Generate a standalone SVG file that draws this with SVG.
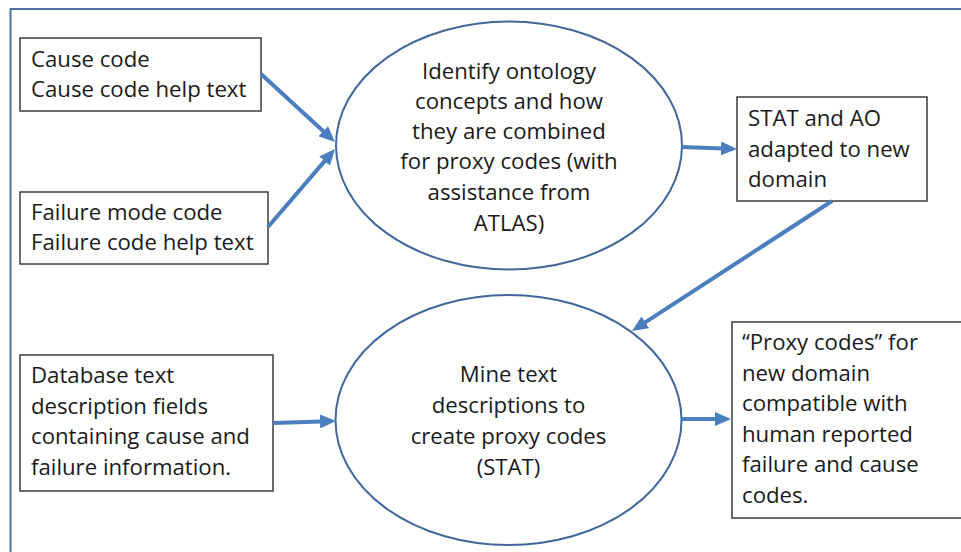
<svg xmlns="http://www.w3.org/2000/svg" width="961" height="552" viewBox="0 0 961 552">
<style>
  text { font-family: "Open Sans", "Noto Sans", sans-serif; font-size: 22.2px; fill: #1a1a1a; }
  .box { fill: #ffffff; stroke: #3c3c3c; stroke-width: 1.5; }
  .ell { fill: #ffffff; stroke: #41679b; stroke-width: 2; }
  .frame { fill: none; stroke: #4a6ea5; stroke-width: 2; }
  .conn { fill: none; stroke: #4a7ebf; stroke-width: 4; marker-end: url(#ah); }
  .c { text-anchor: middle; }
</style>
<defs>
  <marker id="ah" markerUnits="userSpaceOnUse" markerWidth="16" markerHeight="14" refX="2" refY="7" orient="auto">
    <path d="M0,0 L16,7 L0,14 z" fill="#4a7ebf"/>
  </marker>
</defs>
<rect width="961" height="552" fill="#ffffff"/>
<path class="frame" d="M10.5,552 L10.5,9 L961,9"/>

<g id="cause">
  <rect class="box" x="20" y="38" width="241" height="73"/>
  <text x="31" y="67">Cause code</text>
  <text x="31" y="97">Cause code help text</text>
</g>
<g id="failure">
  <rect class="box" x="20" y="192" width="248" height="72"/>
  <text x="31" y="220">Failure mode code</text>
  <text x="31" y="250">Failure code help text</text>
</g>
<g id="database">
  <rect class="box" x="20" y="355" width="253" height="136"/>
  <text x="31" y="383">Database text</text>
  <text x="31" y="413.5">description fields</text>
  <text x="31" y="444">containing cause and</text>
  <text x="31" y="474.5">failure information.</text>
</g>
<g id="identify">
  <ellipse class="ell" cx="509" cy="145.5" rx="173" ry="124"/>
  <text class="c" x="509" y="79">Identify ontology</text>
  <text class="c" x="509" y="109">concepts and how</text>
  <text class="c" x="509" y="139">they are combined</text>
  <text class="c" x="509" y="169">for proxy codes (with</text>
  <text class="c" x="509" y="200">assistance from</text>
  <text class="c" x="509" y="231">ATLAS)</text>
</g>
<g id="stat">
  <rect class="box" x="737" y="97" width="190" height="104"/>
  <text x="748" y="126">STAT and AO</text>
  <text x="748" y="156.5">adapted to new</text>
  <text x="748" y="187">domain</text>
</g>
<g id="mine">
  <ellipse class="ell" cx="508.5" cy="420" rx="173" ry="125"/>
  <text class="c" x="508.5" y="382">Mine text</text>
  <text class="c" x="508.5" y="413">descriptions to</text>
  <text class="c" x="508.5" y="444">create proxy codes</text>
  <text class="c" x="508.5" y="475">(STAT)</text>
</g>
<g id="proxy">
  <rect class="box" x="732" y="322" width="240" height="196"/>
  <text x="742" y="350">“Proxy codes” for</text>
  <text x="742" y="380.5">new domain</text>
  <text x="742" y="411">compatible with</text>
  <text x="742" y="441.5">human reported</text>
  <text x="742" y="472">failure and cause</text>
  <text x="742" y="502.5">codes.</text>
</g>

<g id="connectors">
  <line class="conn" x1="261" y1="74" x2="324.7" y2="132.5"/>
  <line class="conn" x1="268" y1="227" x2="325.9" y2="159.6"/>
  <line class="conn" x1="682" y1="147" x2="723" y2="148.5"/>
  <line class="conn" x1="832" y1="201" x2="643.7" y2="323.4"/>
  <line class="conn" x1="273" y1="423" x2="322" y2="421.4"/>
  <line class="conn" x1="682" y1="419" x2="717" y2="419"/>
</g>
</svg>
